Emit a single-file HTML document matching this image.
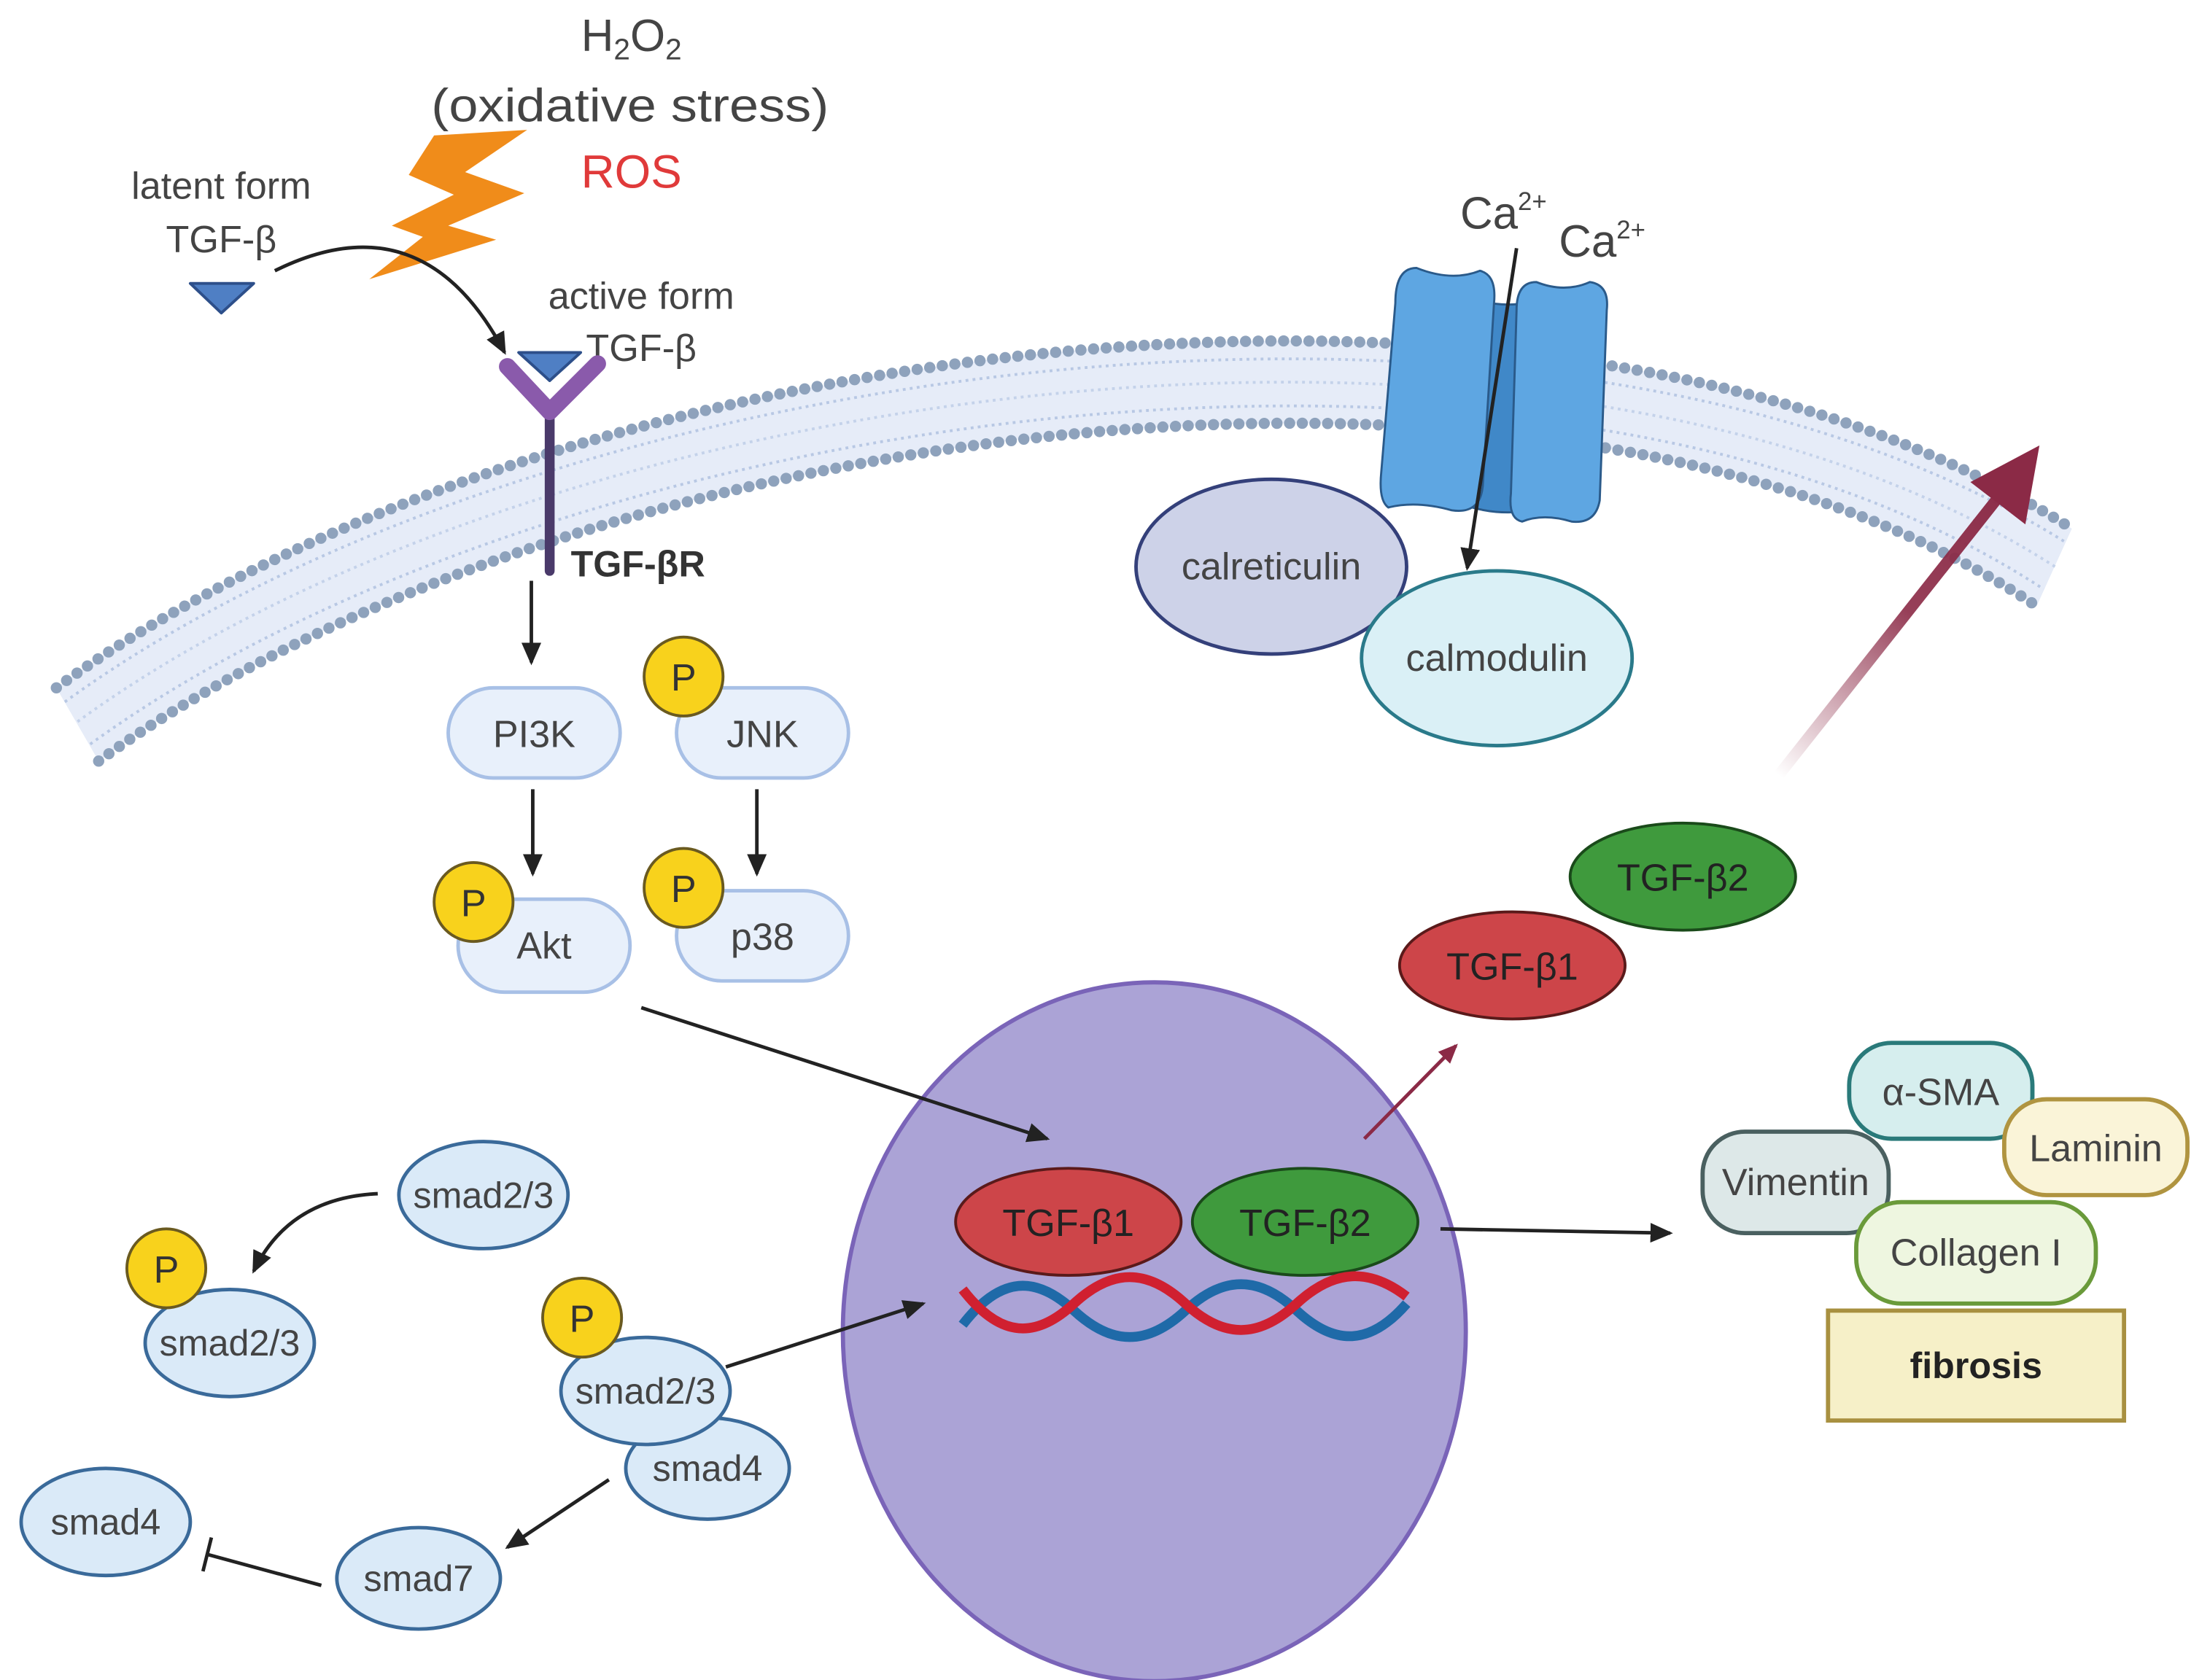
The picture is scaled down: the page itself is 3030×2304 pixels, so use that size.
<!DOCTYPE html>
<html><head><meta charset="utf-8"><style>
html,body{margin:0;padding:0;background:#fff}
svg{display:block}
text{font-family:"Liberation Sans",sans-serif;fill:#444}
</style></head><body>
<svg width="3030" height="2304" viewBox="0 0 1568 1192" xmlns="http://www.w3.org/2000/svg">
<defs>
<marker id="ah2" markerWidth="16" markerHeight="16" refX="14" refY="8" orient="auto" markerUnits="userSpaceOnUse" viewBox="0 0 16 16"><path d="M0,1 L16,8 L0,15 z" fill="#222"/></marker>
<marker id="ahr" markerWidth="14" markerHeight="14" refX="12" refY="7" orient="auto" markerUnits="userSpaceOnUse" viewBox="0 0 14 14"><path d="M0,1 L14,7 L0,13 z" fill="#8b2a46"/></marker>
<linearGradient id="gr" x1="1262" y1="550" x2="1445" y2="318" gradientUnits="userSpaceOnUse"><stop offset="0" stop-color="#8b2a46" stop-opacity="0"/><stop offset="0.5" stop-color="#8b2a46" stop-opacity="0.9"/><stop offset="1" stop-color="#8b2a46"/></linearGradient>
</defs>

<!-- membrane -->
<path d="M40,488 C380,240 1100,140 1470,375 L1445,430 C1100,200 400,300 70,540 Z" fill="#e6ecf8"/>
<path d="M46,498 C384,252 1100,155 1466,385" fill="none" stroke="#b8c8e4" stroke-width="2" stroke-dasharray="2 3"/>
<path d="M55,512 C390,268 1100,172 1458,402" fill="none" stroke="#c4d2ea" stroke-width="2" stroke-dasharray="2 3"/>
<path d="M64,528 C396,287 1100,188 1450,418" fill="none" stroke="#b8c8e4" stroke-width="2" stroke-dasharray="2 3"/>
<path d="M40,488 C380,240 1100,140 1470,375" fill="none" stroke="#8ea2bc" stroke-width="8" stroke-linecap="round" stroke-dasharray="0 9"/>
<path d="M70,540 C400,300 1100,200 1445,430" fill="none" stroke="#8ea2bc" stroke-width="8" stroke-linecap="round" stroke-dasharray="0 9"/>

<!-- top texts -->
<text x="448" y="36" font-size="32" text-anchor="middle">H<tspan font-size="21" dy="6">2</tspan><tspan dy="-6">O</tspan><tspan font-size="21" dy="6">2</tspan></text>
<text x="306" y="86" font-size="33" textLength="282" lengthAdjust="spacingAndGlyphs">(oxidative stress)</text>
<text x="448" y="133" font-size="33" text-anchor="middle" style="fill:#e03a3a">ROS</text>
<polygon points="308,96 374,92 330,122 372,137 318,160 352,170 262,198 300,168 278,160 322,138 290,124" fill="#f08c1a"/>

<text x="157" y="141" font-size="27" text-anchor="middle">latent form</text>
<text x="157" y="179" font-size="27" text-anchor="middle">TGF-β</text>
<polygon points="135,201 180,201 157,222" fill="#4f7fc4" stroke="#2d4f8a" stroke-width="2" stroke-linejoin="round"/>
<path d="M195,192 Q300,140 358,250" fill="none" stroke="#222" stroke-width="2.5" marker-end="url(#ah2)"/>
<text x="455" y="219" font-size="27" text-anchor="middle">active form</text>
<text x="455" y="256" font-size="27" text-anchor="middle">TGF-β</text>

<!-- receptor -->
<line x1="390" y1="292" x2="390" y2="405" stroke="#4a3a6a" stroke-width="7" stroke-linecap="round"/>
<polyline points="360,260 390,292 424,258" fill="none" stroke="#8a5aab" stroke-width="12" stroke-linecap="round" stroke-linejoin="round"/>
<polygon points="368,250 412,250 390,270" fill="#4f7fc4" stroke="#2d4f8a" stroke-width="2" stroke-linejoin="round"/>
<text x="405" y="409" font-size="26" font-weight="bold" style="fill:#333">TGF-βR</text>

<!-- kinase cascade -->
<line x1="377" y1="412" x2="377" y2="470" stroke="#222" stroke-width="2.5" marker-end="url(#ah2)"/>
<rect x="318" y="488" width="122" height="64" rx="32" fill="#e8f0fb" stroke="#a8c0e6" stroke-width="2.5"/>
<text x="379" y="530" font-size="27" text-anchor="middle">PI3K</text>
<rect x="480" y="488" width="122" height="64" rx="32" fill="#e8f0fb" stroke="#a8c0e6" stroke-width="2.5"/>
<text x="541" y="530" font-size="27" text-anchor="middle">JNK</text>
<circle cx="485" cy="480" r="28" fill="#f8d21c" stroke="#6a5a20" stroke-width="2"/>
<text x="485" y="490" font-size="27" text-anchor="middle" style="fill:#333">P</text>
<line x1="378" y1="560" x2="378" y2="620" stroke="#222" stroke-width="2.5" marker-end="url(#ah2)"/>
<line x1="537" y1="560" x2="537" y2="620" stroke="#222" stroke-width="2.5" marker-end="url(#ah2)"/>
<rect x="325" y="638" width="122" height="66" rx="33" fill="#e8f0fb" stroke="#a8c0e6" stroke-width="2.5"/>
<text x="386" y="680" font-size="27" text-anchor="middle">Akt</text>
<circle cx="336" cy="640" r="28" fill="#f8d21c" stroke="#6a5a20" stroke-width="2"/>
<text x="336" y="650" font-size="27" text-anchor="middle" style="fill:#333">P</text>
<rect x="480" y="632" width="122" height="64" rx="32" fill="#e8f0fb" stroke="#a8c0e6" stroke-width="2.5"/>
<text x="541" y="674" font-size="27" text-anchor="middle">p38</text>
<circle cx="485" cy="630" r="28" fill="#f8d21c" stroke="#6a5a20" stroke-width="2"/>
<text x="485" y="640" font-size="27" text-anchor="middle" style="fill:#333">P</text>

<!-- channel -->
<path d="M1040,210 Q1070,222 1100,210 L1110,355 Q1070,372 1030,355 Z" fill="#4088c8" stroke="#2a5a8a" stroke-width="1.5"/>
<path d="M1005,190 Q1030,200 1050,192 Q1062,195 1060,215 L1052,345 Q1050,365 1030,362 Q1005,355 985,360 Q978,355 980,335 L990,215 Q990,190 1005,190 Z" fill="#5ea6e2" stroke="#2a5a8a" stroke-width="1.5"/>
<path d="M1090,200 Q1110,208 1128,200 Q1142,202 1140,220 L1135,355 Q1132,372 1115,370 Q1095,364 1080,370 Q1070,368 1072,350 L1076,220 Q1076,200 1090,200 Z" fill="#5ea6e2" stroke="#2a5a8a" stroke-width="1.5"/>
<text x="1036" y="162" font-size="32">Ca<tspan font-size="18" dy="-13">2+</tspan></text>
<text x="1106" y="182" font-size="32">Ca<tspan font-size="18" dy="-13">2+</tspan></text>
<line x1="1076" y1="176" x2="1041" y2="403" stroke="#222" stroke-width="2.5" marker-end="url(#ah2)"/>
<ellipse cx="902" cy="402" rx="96" ry="62" fill="#cdd2e8" stroke="#34407a" stroke-width="2.5"/>
<text x="902" y="411" font-size="27" text-anchor="middle">calreticulin</text>
<ellipse cx="1062" cy="467" rx="96" ry="62" fill="#daf0f6" stroke="#2a7a8a" stroke-width="2.5"/>
<text x="1062" y="476" font-size="27" text-anchor="middle">calmodulin</text>

<!-- big arrow -->
<line x1="1262" y1="550" x2="1420" y2="350" stroke="url(#gr)" stroke-width="8"/>
<polygon points="1447,316 1437,372 1398,342" fill="#8b2a46"/>

<!-- extracellular TGF -->
<ellipse cx="1194" cy="622" rx="80" ry="38" fill="#3f9a3d" stroke="#1a4a1a" stroke-width="2"/>
<text x="1194" y="632" font-size="27" text-anchor="middle" style="fill:#222">TGF-β2</text>
<ellipse cx="1073" cy="685" rx="80" ry="38" fill="#cd4549" stroke="#5a1a1a" stroke-width="2"/>
<text x="1073" y="695" font-size="27" text-anchor="middle" style="fill:#222">TGF-β1</text>

<!-- nucleus -->
<ellipse cx="819" cy="945" rx="221" ry="248" fill="#aba3d6" stroke="#7a64b8" stroke-width="3"/>
<line x1="455" y1="715" x2="743" y2="808" stroke="#222" stroke-width="2.5" marker-end="url(#ah2)"/>
<line x1="968" y1="808" x2="1033" y2="742" stroke="#8b2a46" stroke-width="2.5" marker-end="url(#ahr)"/>
<ellipse cx="758" cy="867" rx="80" ry="38" fill="#cd4549" stroke="#5a1a1a" stroke-width="2"/>
<text x="758" y="877" font-size="27" text-anchor="middle" style="fill:#222">TGF-β1</text>
<ellipse cx="926" cy="867" rx="80" ry="38" fill="#3f9a3d" stroke="#1a4a1a" stroke-width="2"/>
<text x="926" y="877" font-size="27" text-anchor="middle" style="fill:#222">TGF-β2</text>
<path d="M683,940 C710,905 735,905 762,930 C789,955 814,955 841,930 C868,905 893,905 920,930 C947,955 972,955 998,925" fill="none" stroke="#1f6aa8" stroke-width="7"/>
<path d="M683,915 C710,950 735,950 762,925 C789,900 814,900 841,925 C868,950 893,950 920,925 C947,900 972,900 998,920" fill="none" stroke="#d02030" stroke-width="7"/>
<line x1="1022" y1="872" x2="1185" y2="875" stroke="#222" stroke-width="2.5" marker-end="url(#ah2)"/>

<!-- fibrosis -->
<rect x="1312" y="740" width="130" height="68" rx="30" fill="#d6eeee" stroke="#2a7a7a" stroke-width="3"/>
<text x="1377" y="784" font-size="27" text-anchor="middle">α-SMA</text>
<rect x="1422" y="780" width="130" height="68" rx="30" fill="#faf4d8" stroke="#b09440" stroke-width="3"/>
<text x="1487" y="824" font-size="27" text-anchor="middle">Laminin</text>
<rect x="1208" y="803" width="132" height="72" rx="30" fill="#dde8e8" stroke="#4a6060" stroke-width="3"/>
<text x="1274" y="848" font-size="27" text-anchor="middle">Vimentin</text>
<rect x="1317" y="853" width="170" height="72" rx="32" fill="#eef6e0" stroke="#6a9a3a" stroke-width="3"/>
<text x="1402" y="898" font-size="27" text-anchor="middle">Collagen I</text>
<rect x="1297" y="930" width="210" height="78" fill="#f6f0c8" stroke="#a89040" stroke-width="3"/>
<text x="1402" y="978" font-size="26" font-weight="bold" text-anchor="middle" style="fill:#222">fibrosis</text>

<!-- smads -->
<ellipse cx="343" cy="848" rx="60" ry="38" fill="#daeaf8" stroke="#3a6a9a" stroke-width="2.5"/>
<text x="343" y="857" font-size="26" text-anchor="middle">smad2/3</text>
<path d="M268,847 Q205,850 180,902" fill="none" stroke="#222" stroke-width="2.5" marker-end="url(#ah2)"/>
<ellipse cx="163" cy="953" rx="60" ry="38" fill="#daeaf8" stroke="#3a6a9a" stroke-width="2.5"/>
<text x="163" y="962" font-size="26" text-anchor="middle">smad2/3</text>
<circle cx="118" cy="900" r="28" fill="#f8d21c" stroke="#6a5a20" stroke-width="2"/>
<text x="118" y="910" font-size="27" text-anchor="middle" style="fill:#333">P</text>

<ellipse cx="502" cy="1042" rx="58" ry="36" fill="#daeaf8" stroke="#3a6a9a" stroke-width="2.5"/>
<text x="502" y="1051" font-size="26" text-anchor="middle">smad4</text>
<ellipse cx="458" cy="987" rx="60" ry="38" fill="#daeaf8" stroke="#3a6a9a" stroke-width="2.5"/>
<text x="458" y="996" font-size="26" text-anchor="middle">smad2/3</text>
<circle cx="413" cy="935" r="28" fill="#f8d21c" stroke="#6a5a20" stroke-width="2"/>
<text x="413" y="945" font-size="27" text-anchor="middle" style="fill:#333">P</text>
<line x1="515" y1="970" x2="655" y2="925" stroke="#222" stroke-width="2.5" marker-end="url(#ah2)"/>
<line x1="432" y1="1050" x2="360" y2="1098" stroke="#222" stroke-width="2.5" marker-end="url(#ah2)"/>
<ellipse cx="297" cy="1120" rx="58" ry="36" fill="#daeaf8" stroke="#3a6a9a" stroke-width="2.5"/>
<text x="297" y="1129" font-size="26" text-anchor="middle">smad7</text>
<ellipse cx="75" cy="1080" rx="60" ry="38" fill="#daeaf8" stroke="#3a6a9a" stroke-width="2.5"/>
<text x="75" y="1089" font-size="26" text-anchor="middle">smad4</text>
<line x1="228" y1="1125" x2="147" y2="1103" stroke="#222" stroke-width="2.5"/>
<line x1="150" y1="1091" x2="144" y2="1115" stroke="#222" stroke-width="2.5"/>
</svg>
</body></html>
